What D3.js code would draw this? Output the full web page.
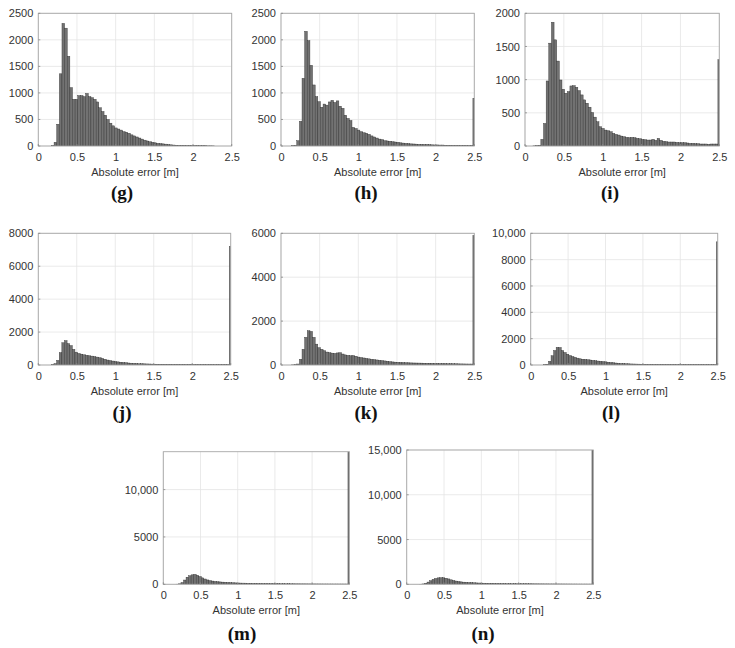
<!DOCTYPE html>
<html>
<head>
<meta charset="utf-8">
<script src="https://cdn.jsdelivr.net/npm/d3@7/dist/d3.min.js"></script>
<style>
  html, body { margin: 0; padding: 0; background: #fff; }
  svg { display: block; }
  .tick text { font-family: "Liberation Sans", Arial, sans-serif; font-size: 11px; fill: #333; }
</style>
</head>
<body>
<svg id="chart" width="735" height="648"></svg>
<script>
// ---------- DATA ----------
const binWidth = 0.034;               // histogram bin width [m]
const xTicks = [0, 0.5, 1, 1.5, 2, 2.5];
const xLabel = "Absolute error [m]";
const panelLabels = ["(g)", "(h)", "(i)", "(j)", "(k)", "(l)", "(m)", "(n)"];

const countsG = [0,0,0,0,0,5,70,410,1360,2310,2220,1690,1100,880,880,950,950,930,990,930,910,880,830,720,650,580,500,430,380,340,320,300,270,260,240,210,190,170,150,130,110,95,80,70,60,50,45,40,35,28,22,18,15,12,10,10,8,8,6,6,5,5,4,4,3,3,2,0,0,0,0,0,0,0];
const countsH = [0,0,0,0,5,10,100,465,1275,2160,1985,1520,1150,930,835,730,790,770,830,860,820,850,750,710,580,520,480,350,330,300,270,250,240,220,190,170,150,130,120,100,95,90,80,75,70,60,55,50,45,40,38,35,32,30,28,30,25,22,20,20,18,18,15,15,14,12,12,10,10,10,8,8,8,900];
const countsI = [0,0,0,2,5,10,100,340,980,1550,1865,1600,1280,995,855,795,820,905,910,885,835,770,695,645,585,505,435,365,290,265,240,230,215,190,175,165,150,140,130,125,130,125,115,110,100,95,90,90,100,85,115,85,70,65,60,60,60,55,50,50,50,45,40,40,35,35,30,30,30,25,30,30,30,1300];
const countsJ = [0,0,0,0,0,20,80,280,750,1350,1480,1300,1180,950,780,700,660,620,590,560,540,510,480,440,400,350,300,270,240,210,190,170,150,140,120,110,100,90,80,75,70,65,60,55,50,48,46,44,42,40,38,36,35,34,33,32,30,30,28,28,26,26,25,25,24,24,22,22,21,21,20,20,20,7200];
const countsK = [0,0,0,0,5,10,45,260,715,1260,1560,1530,1260,950,790,715,650,590,560,540,530,550,560,500,460,440,420,430,400,360,340,320,300,280,260,245,230,215,200,185,170,155,140,130,125,118,112,106,100,96,92,90,88,85,82,80,78,76,74,72,70,68,65,62,60,58,55,52,50,48,46,45,44,5900];
const countsL = [0,0,0,0,0,20,60,280,700,1100,1340,1330,1100,950,820,720,640,580,520,470,440,420,400,380,350,320,300,280,260,240,210,190,170,150,130,120,110,100,90,80,75,70,65,60,55,50,48,46,44,42,40,38,36,35,34,33,32,31,30,30,29,28,28,27,27,26,26,25,25,25,25,25,25,9350];
const countsM = [0,0,0,0,0,15,50,180,450,750,900,1000,1050,950,820,680,560,460,390,340,300,270,250,230,210,190,175,160,150,140,130,125,120,110,105,100,95,90,85,80,80,75,75,70,70,70,65,60,58,56,54,52,50,48,46,45,44,42,40,40,38,38,36,36,35,35,34,34,33,33,32,32,30,14000];
const countsN = [0,0,0,0,0,10,40,120,250,400,550,650,720,740,730,680,600,500,420,360,310,270,240,220,200,185,170,155,145,135,125,115,110,105,100,95,90,85,80,78,75,72,70,68,65,62,60,58,56,54,52,50,48,46,45,44,42,41,40,39,38,37,36,35,34,33,32,31,30,30,29,28,28,15000];

const yTicksG = [0, 500, 1000, 1500, 2000, 2500];
const yTicksH = [0, 500, 1000, 1500, 2000, 2500];
const yTicksI = [0, 500, 1000, 1500, 2000];
const yTicksJ = [0, 2000, 4000, 6000, 8000];
const yTicksK = [0, 2000, 4000, 6000];
const yTicksL = [0, 2000, 4000, 6000, 8000, 10000];
const yTicksM = [0, 5000, 10000];
const yTicksN = [0, 5000, 10000, 15000];

const yMaxes = [2500, 2500, 2000, 8000, 6000, 10000, 14000, 15000];

// ---------- LAYOUT ----------
const layout = [
  {l: 38.3,  t: 13.3,  r: 231.7, b: 146,   lx: 122},
  {l: 281,   t: 13.3,  r: 474.3, b: 146,   lx: 366},
  {l: 525,   t: 13.3,  r: 719.3, b: 146,   lx: 610},
  {l: 38.3,  t: 233.3, r: 230.7, b: 365,   lx: 122},
  {l: 281,   t: 233.3, r: 474.3, b: 365,   lx: 366},
  {l: 530.7, t: 233.3, r: 717.7, b: 365,   lx: 611},
  {l: 163.3, t: 451.7, r: 349.3, b: 584.3, lx: 242},
  {l: 406.7, t: 450,   r: 593.3, b: 584.3, lx: 483}
];
const labelBaselines = [199, 199, 199, 419, 419, 419, 640, 640];

const allCounts = [countsG, countsH, countsI, countsJ, countsK, countsL, countsM, countsN];
const allYTicks = [yTicksG, yTicksH, yTicksI, yTicksJ, yTicksK, yTicksL, yTicksM, yTicksN];

const fmtY = v => v >= 10000 ? d3.format(",")(v) : String(v);
const fmtX = v => String(v);

const svg = d3.select("#chart");
svg.append("rect").attr("width", 735).attr("height", 648).attr("fill", "#fff");

layout.forEach((L, p) => {
  const counts = allCounts[p];
  const x = d3.scaleLinear().domain([0, 2.5]).range([L.l, L.r]);
  const y = d3.scaleLinear().domain([0, yMaxes[p]]).range([L.b, L.t]);
  const g = svg.append("g");

  const clipId = "clip" + p;
  svg.append("clipPath").attr("id", clipId)
    .append("rect").attr("x", L.l).attr("y", L.t)
    .attr("width", L.r - L.l).attr("height", L.b - L.t);

  // grid
  g.append("g").selectAll("line").data(xTicks).join("line")
    .attr("x1", d => x(d)).attr("x2", d => x(d))
    .attr("y1", L.t).attr("y2", L.b)
    .attr("stroke", "#e4e4e4").attr("stroke-width", 0.8);
  g.append("g").selectAll("line").data(allYTicks[p]).join("line")
    .attr("x1", L.l).attr("x2", L.r)
    .attr("y1", d => y(d)).attr("y2", d => y(d))
    .attr("stroke", "#e4e4e4").attr("stroke-width", 0.8);

  // bars
  const bins = counts.map((c, i) => ({x0: i * binWidth, x1: (i + 1) * binWidth, c}));
  g.append("g").attr("clip-path", `url(#${clipId})`)
    .selectAll("rect").data(bins.filter(d => d.c > 0)).join("rect")
    .attr("x", d => x(d.x0))
    .attr("width", d => x(d.x1) - x(d.x0))
    .attr("y", d => y(d.c))
    .attr("height", d => y(0) - y(d.c))
    .attr("fill", "#727272")
    .attr("stroke", "#2f2f2f")
    .attr("stroke-width", 0.4);

  // box
  g.append("rect").attr("x", L.l).attr("y", L.t)
    .attr("width", L.r - L.l).attr("height", L.b - L.t)
    .attr("fill", "none").attr("stroke", "#a8a8a8").attr("stroke-width", 0.9);

  // inward tick marks
  g.append("g").selectAll("line").data(xTicks).join("line")
    .attr("x1", d => x(d)).attr("x2", d => x(d))
    .attr("y1", L.b).attr("y2", L.b - 2)
    .attr("stroke", "#888").attr("stroke-width", 0.8);
  g.append("g").selectAll("line").data(allYTicks[p]).join("line")
    .attr("x1", L.l).attr("x2", L.l + 2)
    .attr("y1", d => y(d)).attr("y2", d => y(d))
    .attr("stroke", "#888").attr("stroke-width", 0.8);

  // axes (labels only)
  const ax = g.append("g").attr("transform", `translate(0,${L.b})`)
    .call(d3.axisBottom(x).tickValues(xTicks).tickFormat(fmtX).tickSize(0).tickPadding(7.3));
  ax.select(".domain").remove();
  const ay = g.append("g").attr("transform", `translate(${L.l},0)`)
    .call(d3.axisLeft(y).tickValues(allYTicks[p]).tickFormat(fmtY).tickSize(0).tickPadding(5));
  ay.select(".domain").remove();

  // x label
  g.append("text")
    .attr("x", (L.l + L.r) / 2).attr("y", L.b + 29.5)
    .attr("text-anchor", "middle")
    .attr("font-family", "'Liberation Sans', Arial, sans-serif")
    .attr("font-size", 11).attr("fill", "#333")
    .text(xLabel);

  // panel label
  svg.append("text")
    .attr("x", L.lx).attr("y", labelBaselines[p])
    .attr("text-anchor", "middle")
    .attr("font-family", "'Liberation Serif', 'Times New Roman', serif")
    .attr("font-weight", "bold")
    .attr("font-size", 19).attr("fill", "#111")
    .text(panelLabels[p]);
});
</script>
</body>
</html>
